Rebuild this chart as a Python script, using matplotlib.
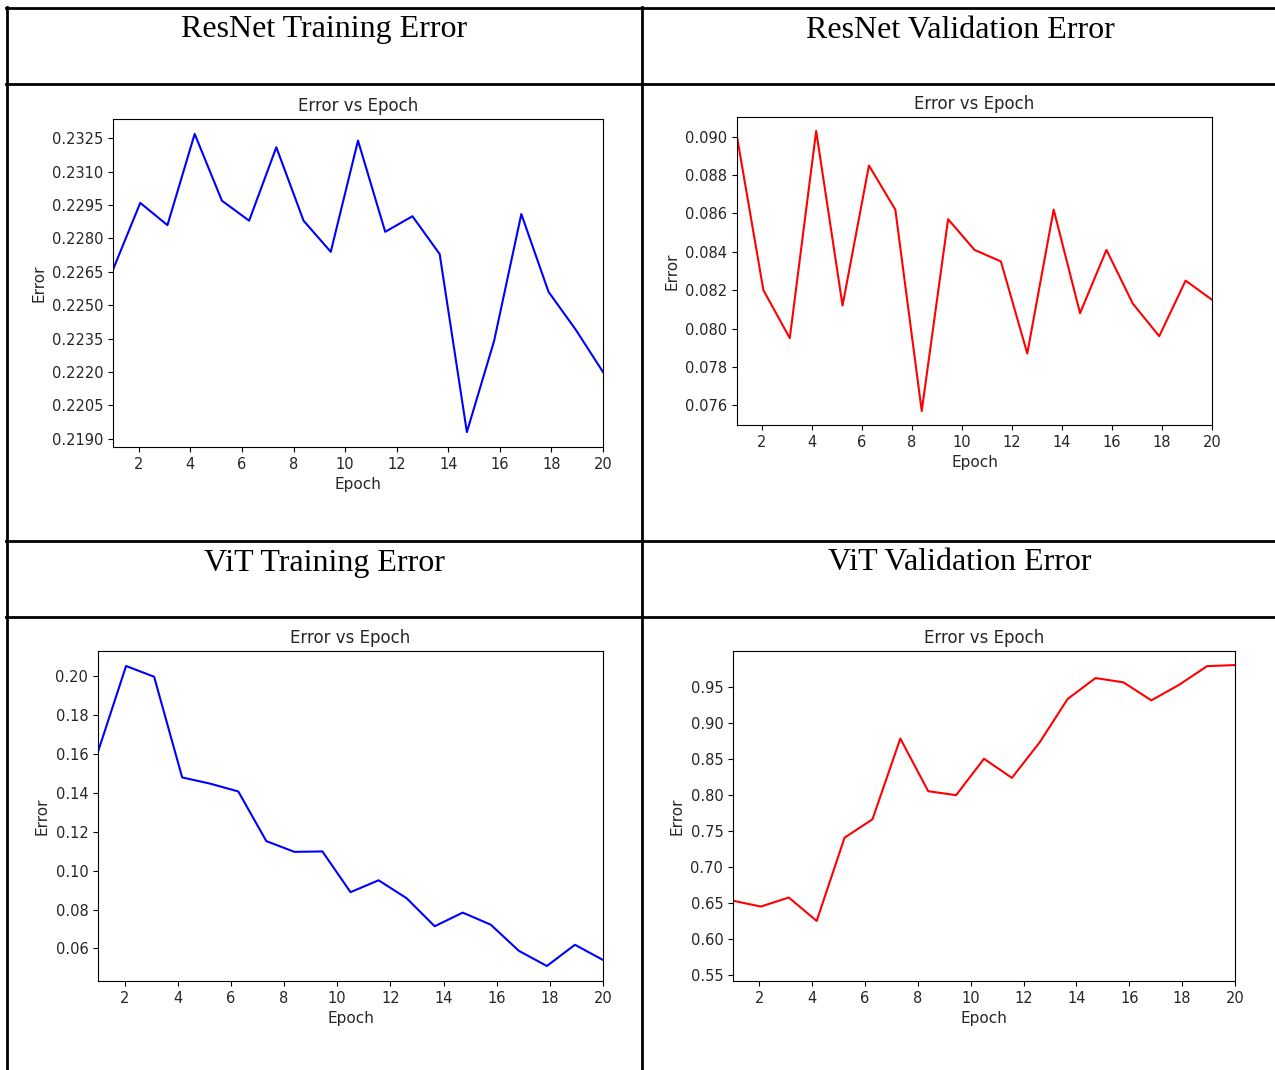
import matplotlib
matplotlib.use('Agg')
import matplotlib.pyplot as plt
from matplotlib.lines import Line2D
from matplotlib.ticker import MultipleLocator, FormatStrFormatter

W, H = 1275, 1070

epochs = [1.0, 2.056, 3.111, 4.167, 5.222, 6.278, 7.333, 8.389, 9.444, 10.5,
          11.556, 12.611, 13.667, 14.722, 15.778, 16.833, 17.889, 18.944, 20.0]

resnet_train = [0.2266, 0.2296, 0.2286, 0.2327, 0.2297, 0.2288, 0.2321, 0.2288, 0.2274, 0.2324,
                0.2283, 0.2290, 0.2273, 0.2193, 0.2234, 0.2291, 0.2256, 0.2239, 0.2220]
resnet_val = [0.0900, 0.0820, 0.0795, 0.0903, 0.0812, 0.0885, 0.0862, 0.0757, 0.0857, 0.0841,
              0.0835, 0.0787, 0.0862, 0.0808, 0.0841, 0.0813, 0.0796, 0.0825, 0.0815]
vit_train = [0.161, 0.205, 0.1995, 0.1478, 0.1446, 0.1406, 0.1151, 0.1096, 0.1098, 0.0889,
             0.0950, 0.0858, 0.0714, 0.0784, 0.0722, 0.0588, 0.0510, 0.0619, 0.0541]
vit_val = [0.653, 0.645, 0.6575, 0.625, 0.7405, 0.766, 0.878, 0.805, 0.7995, 0.850,
           0.8235, 0.873, 0.933, 0.962, 0.956, 0.931, 0.9527, 0.9785, 0.980]

headers = ['ResNet Training Error', 'ResNet Validation Error',
           'ViT Training Error', 'ViT Validation Error']

fig = plt.figure(figsize=(W / 100, H / 100), dpi=100)


def fx(x):
    return x / W


def fy(y):
    return 1 - y / H


# table borders
lw = 2.0
for y in [8, 84, 541, 617]:
    fig.add_artist(Line2D([fx(6), 1], [fy(y), fy(y)], color='black', lw=lw))
for x in [7, 642]:
    fig.add_artist(Line2D([fx(x), fx(x)], [fy(7), 0], color='black', lw=lw))

# header texts
hdr_pos = [(324, 30), (960, 30), (324, 563), (960, 563)]
for txt, (x, y) in zip(headers, hdr_pos):
    fig.text(fx(x), fy(y), txt, ha='center', va='center',
             fontsize=23, family='Liberation Serif')

# axes boxes: left, top, right, bottom in pixels
boxes = [(113, 119, 603, 447), (737, 117, 1212, 425),
         (98, 651, 603, 981), (733, 651, 1235, 981)]
series = [resnet_train, resnet_val, vit_train, vit_val]
colors = ['b', 'r', 'b', 'r']
steps = [0.0015, 0.002, 0.02, 0.05]
fmts = ['%.4f', '%.3f', '%.2f', '%.2f']

for (l, t, r, b), vals, c, st, fm in zip(boxes, series, colors, steps, fmts):
    ax = fig.add_axes([fx(l), fy(b), fx(r) - fx(l), fy(t) - fy(b)])
    ax.plot(epochs, vals, color=c, lw=1.5)
    ax.set_xlim(1, 20)
    ax.xaxis.set_major_locator(MultipleLocator(2))
    ax.yaxis.set_major_locator(MultipleLocator(st))
    ax.yaxis.set_major_formatter(FormatStrFormatter(fm))
    ax.set_title('Error vs Epoch', fontsize=12, color='#262626')
    ax.set_xlabel('Epoch', fontsize=11, color='#262626')
    ax.set_ylabel('Error', fontsize=11, color='#262626')
    ax.tick_params(labelsize=10.5, labelcolor='#262626')
    if c == 'r' and st == 0.05:
        ax.set_ylim(0.5417, 0.9995)

fig.savefig('out.png', dpi=100)
